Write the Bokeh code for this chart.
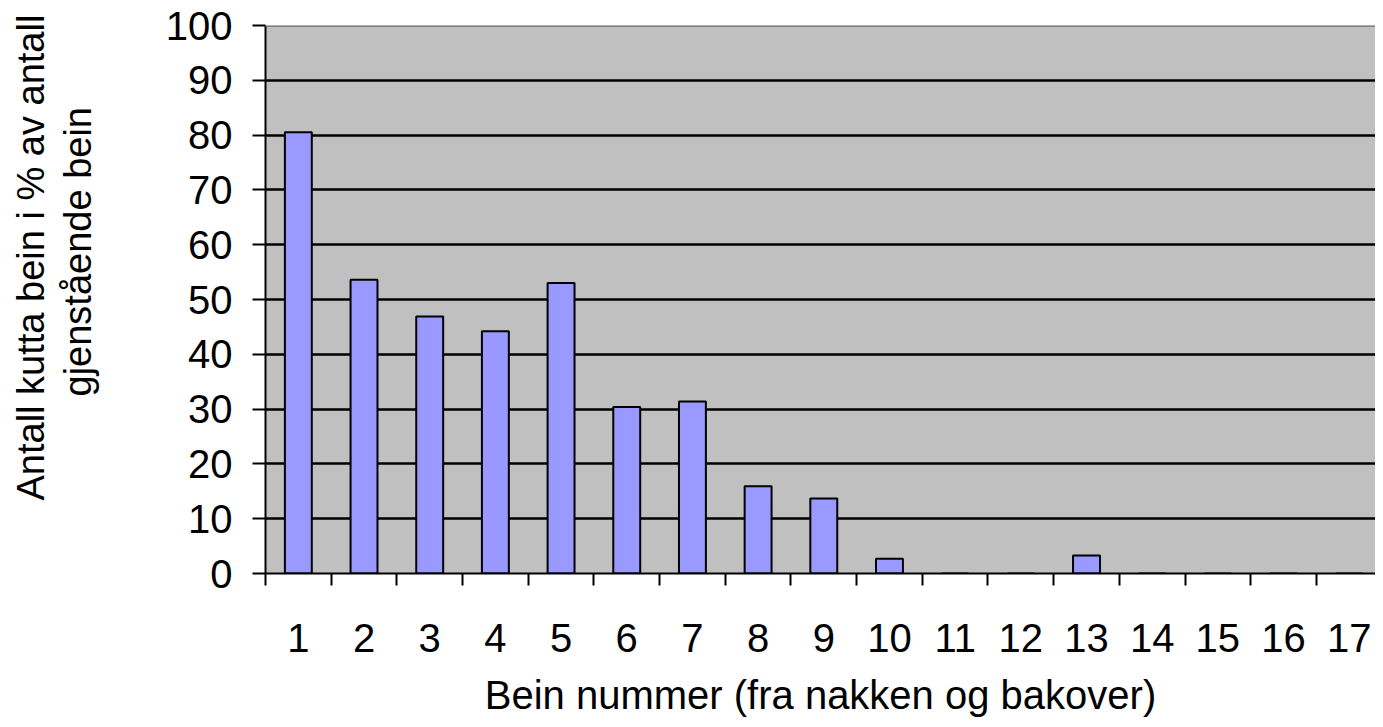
from bokeh.plotting import figure
from bokeh.models import FixedTicker, Span, ColumnDataSource, Title
from bokeh.embed import file_html
from bokeh.resources import INLINE

# Data
bein = list(range(1, 18))
tick_labels = [str(b) for b in bein]
prosent = [80.5, 53.6, 46.9, 44.2, 53.0, 30.4, 31.4, 15.9, 13.7, 2.7, 0, 0, 3.3, 0, 0, 0, 0]
y_ticks = list(range(0, 101, 10))

FONT = "Liberation Sans"

p = figure(width=1375, height=719, output_backend="svg", toolbar_location=None,
           x_range=(0.5, 17.4), y_range=(0, 100),
           min_border_left=265, min_border_right=0, min_border_top=25, min_border_bottom=146)

p.background_fill_color = "#C0C0C0"
p.border_fill_color = "white"
p.outline_line_color = None

src = ColumnDataSource(dict(x=bein, top=prosent))
p.vbar(x="x", top="top", width=0.41, source=src, fill_color="#9999FF",
       line_color="black", line_width=2)

# top border of the plot area
p.add_layout(Span(location=100, dimension="width", line_color="#808080", line_width=3))

# x axis
xa = p.xaxis[0]
xa.ticker = FixedTicker(ticks=bein, minor_ticks=[b - 0.5 for b in bein] + [17.5])
xa.major_label_overrides = {b: l for b, l in zip(bein, tick_labels)}
xa.major_tick_out = 0
xa.major_tick_in = 0
xa.minor_tick_out = 12
xa.minor_tick_in = 0
xa.minor_tick_line_width = 2
xa.minor_tick_line_color = "black"
xa.axis_line_width = 2
xa.axis_line_color = "black"
xa.major_label_text_font = FONT
xa.major_label_text_font_size = "40px"
xa.major_label_text_color = "black"
xa.major_label_standoff = 38
xa.axis_label = "Bein nummer (fra nakken og bakover)"
xa.axis_label_text_font = FONT
xa.axis_label_text_font_size = "40px"
xa.axis_label_text_font_style = "normal"
xa.axis_label_text_color = "black"
xa.axis_label_standoff = 18

# y axis
ya = p.yaxis[0]
ya.ticker = FixedTicker(ticks=y_ticks, minor_ticks=[])
ya.major_tick_out = 13
ya.major_tick_in = 0
ya.major_tick_line_width = 2
ya.major_tick_line_color = "black"
ya.minor_tick_out = 0
ya.minor_tick_in = 0
ya.axis_line_width = 2
ya.axis_line_color = "black"
ya.major_label_text_font = FONT
ya.major_label_text_font_size = "40px"
ya.major_label_text_color = "black"
ya.major_label_standoff = 20

p.xgrid.grid_line_color = None
p.ygrid.grid_line_color = "black"
p.ygrid.grid_line_width = 2.5

# y axis title, two centred lines in the left margin
pad = Title(text=" ", standoff=58, text_font=FONT, text_font_size="1px")
t2 = Title(text="gjenstående bein", align="left", offset=177, standoff=6,
           text_font=FONT, text_font_size="38px", text_font_style="normal", text_color="black")
t1 = Title(text="Antall kutta bein i % av antall", align="left", offset=73, standoff=0,
           text_font=FONT, text_font_size="38px", text_font_style="normal", text_color="black")
p.add_layout(pad, "left")
p.add_layout(t2, "left")
p.add_layout(t1, "left")

open("out.html", "w").write(file_html(p, INLINE))
